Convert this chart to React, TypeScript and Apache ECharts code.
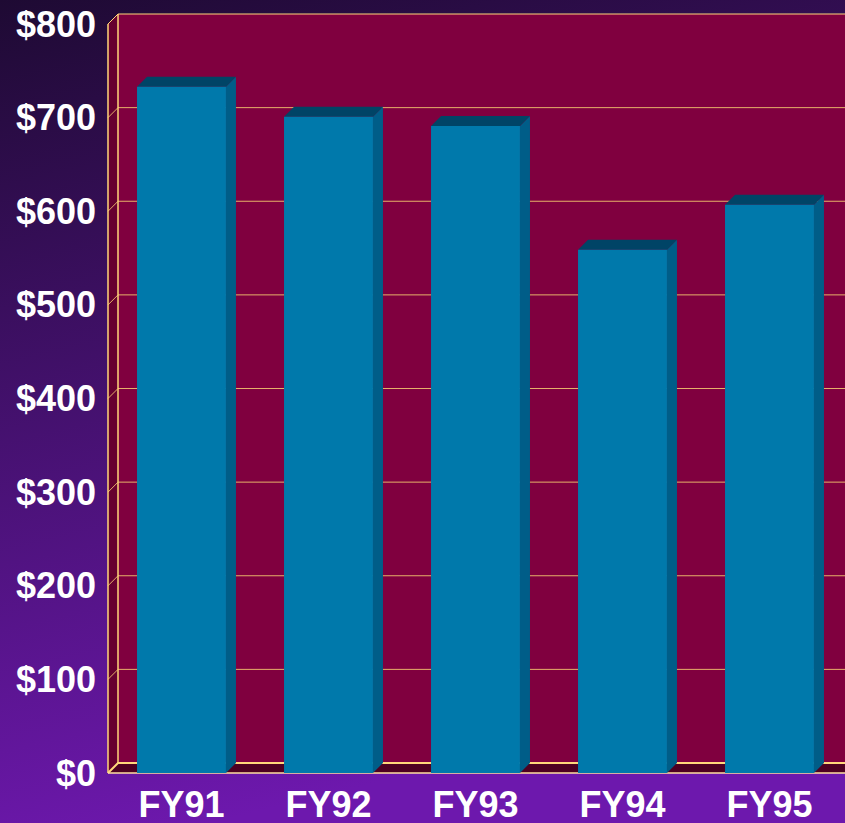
import React, { useEffect, useRef } from "react";
import * as echarts from "echarts";

const categories = ["FY91", "FY92", "FY93", "FY94", "FY95"];
const revenue = [733, 701, 691, 559, 607];
const yTicks = [0, 100, 200, 300, 400, 500, 600, 700, 800];
const yMax = 800;

const DX = 10;
const DY = 10;
const BAR_RATIO = 0.605;

export default function App() {
  const ref = useRef<HTMLDivElement>(null);

  useEffect(() => {
    if (!ref.current) return;
    const chart = echarts.init(ref.current, undefined, { renderer: "svg" });

    const renderFrame = (params: any, api: any) => {
      const band = api.size([1, 0])[0];
      const left = api.coord([0, 0])[0] - band / 2;
      const right = api.coord([categories.length - 1, 0])[0] + band / 2 + DX + 30;
      const yTop = api.coord([0, yMax])[1];
      const yBot = api.coord([0, 0])[1];
      const children: any[] = [];
      children.push({
        type: "rect",
        shape: { x: left + DX, y: yTop - DY, width: right - left, height: yBot - yTop },
        style: { fill: "#80003f" },
      });
      children.push({
        type: "polygon",
        shape: { points: [[left, yTop], [left + DX, yTop - DY], [left + DX, yBot - DY], [left, yBot]] },
        style: { fill: "#66002f" },
      });
      children.push({
        type: "polygon",
        shape: { points: [[left, yBot], [left + DX, yBot - DY], [right, yBot - DY], [right, yBot]] },
        style: { fill: "#4e0022" },
      });
      yTicks.forEach((v) => {
        const y = api.coord([0, v])[1];
        const edge = v === 0 || v === yMax;
        children.push({
          type: "polyline",
          shape: { points: [[left, y], [left + DX, y - DY], [right, y - DY]] },
          style: {
            stroke: edge ? "#ffd77a" : "#e6b06a",
            lineWidth: v === 0 ? 2 : 1,
            fill: null,
          },
        });
      });
      children.push({
        type: "line",
        shape: { x1: left + DX, y1: yTop - DY, x2: left + DX, y2: yBot - DY },
        style: { stroke: "#ffd77a", lineWidth: 1.5 },
      });
      children.push({
        type: "line",
        shape: { x1: left, y1: yTop, x2: left, y2: yBot },
        style: { stroke: "#ffd77a", lineWidth: 1.5 },
      });
      children.push({
        type: "line",
        shape: { x1: left, y1: yBot, x2: right, y2: yBot },
        style: { stroke: "#ffe0a0", lineWidth: 1.5 },
      });
      return { type: "group", children };
    };

    const renderBar = (params: any, api: any) => {
      const idx = api.value(0);
      const val = api.value(1);
      const [cx, yt] = api.coord([idx, val]);
      const y0 = api.coord([idx, 0])[1];
      const w = api.size([1, 0])[0] * BAR_RATIO;
      const xl = cx - w / 2;
      const xr = cx + w / 2;
      return {
        type: "group",
        children: [
          {
            type: "polygon",
            shape: { points: [[xr, yt], [xr + DX, yt - DY], [xr + DX, y0 - DY], [xr, y0]] },
            style: { fill: "#005d88" },
          },
          {
            type: "polygon",
            shape: { points: [[xl, yt], [xl + DX, yt - DY], [xr + DX, yt - DY], [xr, yt]] },
            style: { fill: "#004466" },
          },
          {
            type: "rect",
            shape: { x: xl, y: yt, width: w, height: y0 - yt },
            style: { fill: "#0079ab" },
          },
        ],
      };
    };

    const labelFont = {
      color: "#ffffff",
      fontWeight: "bold" as const,
      fontSize: 36,
      fontFamily: "'Liberation Sans', Arial, sans-serif",
    };

    chart.setOption({
      animation: false,
      backgroundColor: new echarts.graphic.LinearGradient(0, 0, 0.25, 1, [
        { offset: 0, color: "#1e0a33" },
        { offset: 1, color: "#6d18ad" },
      ]),
      grid: { left: 108, top: 24, bottom: 50, right: 2, containLabel: false },
      xAxis: {
        type: "category",
        data: categories,
        axisLine: { show: false },
        axisTick: { show: false },
        splitLine: { show: false },
        axisLabel: { ...labelFont, margin: 17, lineHeight: 28 },
      },
      yAxis: {
        type: "value",
        min: 0,
        max: yMax,
        interval: 100,
        axisLine: { show: false },
        axisTick: { show: false },
        splitLine: { show: false },
        axisLabel: { ...labelFont, margin: 12, formatter: (v: number) => "$" + v },
      },
      series: [
        {
          type: "custom",
          renderItem: renderFrame,
          data: [[0, 0]],
          silent: true,
          z: 1,
        },
        {
          type: "custom",
          renderItem: renderBar,
          data: revenue.map((v, i) => [i, v]),
          encode: { x: 0, y: 1 },
          z: 2,
        },
      ],
    });

    return () => chart.dispose();
  }, []);

  return (
    <div
      ref={ref}
      style={{ position: "absolute", left: 0, top: 0, width: 845, height: 823 }}
    />
  );
}
